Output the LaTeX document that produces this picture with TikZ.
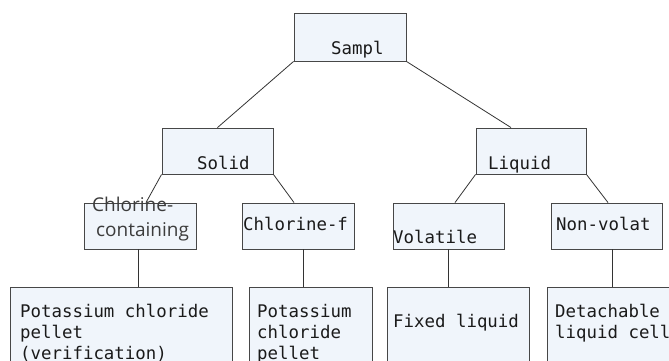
\documentclass[tikz,border=0pt]{standalone}
\usepackage{fontspec}
\newfontfamily\monof{DejaVu Sans Mono}
\newfontfamily\osf{Open Sans}
\definecolor{boxfill}{HTML}{F0F5FB}
\definecolor{boxline}{HTML}{474747}
\definecolor{txt}{HTML}{1A1A1A}
\tikzset{
  box/.style={draw=boxline, fill=boxfill, line width=0.9pt, inner sep=0pt, minimum height=46pt},
  lbl/.style={anchor=base west, inner sep=0pt, text=txt, font=\monof\fontsize{17.4}{20}\selectfont},
  lbls/.style={anchor=base west, inner sep=0pt, text=txt!85, font=\osf\fontsize{19}{22}\selectfont},
  conn/.style={draw=black!80, line width=0.8pt}
}
\begin{document}
\begin{tikzpicture}[x=1pt,y=-1pt]
\useasboundingbox (0,0) rectangle (669,360);
\clip (0,0) rectangle (669,360);
% boxes
\node[box, minimum width=112pt, minimum height=48pt] (sampl) at (350,37) {};
\node[box, minimum width=111pt] (solid) at (217.5,151) {};
\node[box, minimum width=110pt] (liquid) at (531,151) {};
\node[box, minimum width=112pt] (chlc) at (140,226) {};
\node[box, minimum width=112pt] (chlf) at (298,226) {};
\node[box, minimum width=111pt] (vol) at (448.5,226) {};
\node[box, minimum width=111pt] (nonv) at (606.5,226) {};
\node[box, minimum width=222pt, minimum height=93pt] (b1) at (121,333.5) {};
\node[box, minimum width=123pt, minimum height=93pt] (b2) at (310.5,333.5) {};
\node[box, minimum width=142pt, minimum height=93pt] (b3) at (458,333.5) {};
\node[box, minimum width=133pt, minimum height=93pt] (b4) at (613.5,333.5) {};
% connectors
\draw[conn] (sampl.south west) -- (solid.north);
\draw[conn] (sampl.south east) -- ([xshift=-20pt]liquid.north);
\draw[conn] (solid.south west) -- ([xshift=6pt]chlc.north);
\draw[conn] (solid.south east) -- ([xshift=-4pt]chlf.north);
\draw[conn] (liquid.south west) -- ([xshift=6.5pt]vol.north);
\draw[conn] (liquid.south east) -- ([xshift=1.5pt]nonv.north);
\draw[conn] ([xshift=-2pt]chlc.south) -- ([xshift=-2pt]chlc.south |- b1.north);
\draw[conn] ([xshift=5pt]chlf.south) -- ([xshift=5pt]chlf.south |- b2.north);
\draw[conn] (vol.south) -- (vol.south |- b3.north);
\draw[conn] ([xshift=5.5pt]nonv.south) -- ([xshift=5.5pt]nonv.south |- b4.north);
% labels
\node[lbl] (tsampl) at (331,54) {Sampl};
\node[lbl] (tsolid) at (197,169) {Solid};
\node[lbl] (tliquid) at (488,169) {Liquid};
\node[lbls] (tchlc1) at (92,211) {Chlorine-};
\node[lbls] (tchlc2) at (96,236) {containing};
\node[lbl] (tchlf) at (243,230) {Chlorine-f};
\node[lbl] (tvol) at (393,243) {Volatile};
\node[lbl] (tnonv) at (556,230) {Non-volat};
\node[lbl] (tb1a) at (20,317) {Potassium chloride};
\node[lbl] (tb1b) at (20,338.3) {pellet};
\node[lbl] (tb1c) at (20,359.6) {(verification)};
\node[lbl] (tb2a) at (257,317) {Potassium};
\node[lbl] (tb2b) at (257,338.3) {chloride};
\node[lbl] (tb2c) at (257,359.6) {pellet};
\node[lbl] (tb3) at (393,327) {Fixed liquid};
\node[lbl] (tb4a) at (555,317) {Detachable};
\node[lbl] (tb4b) at (555,338.3) {liquid cell};
\end{tikzpicture}
\end{document}
